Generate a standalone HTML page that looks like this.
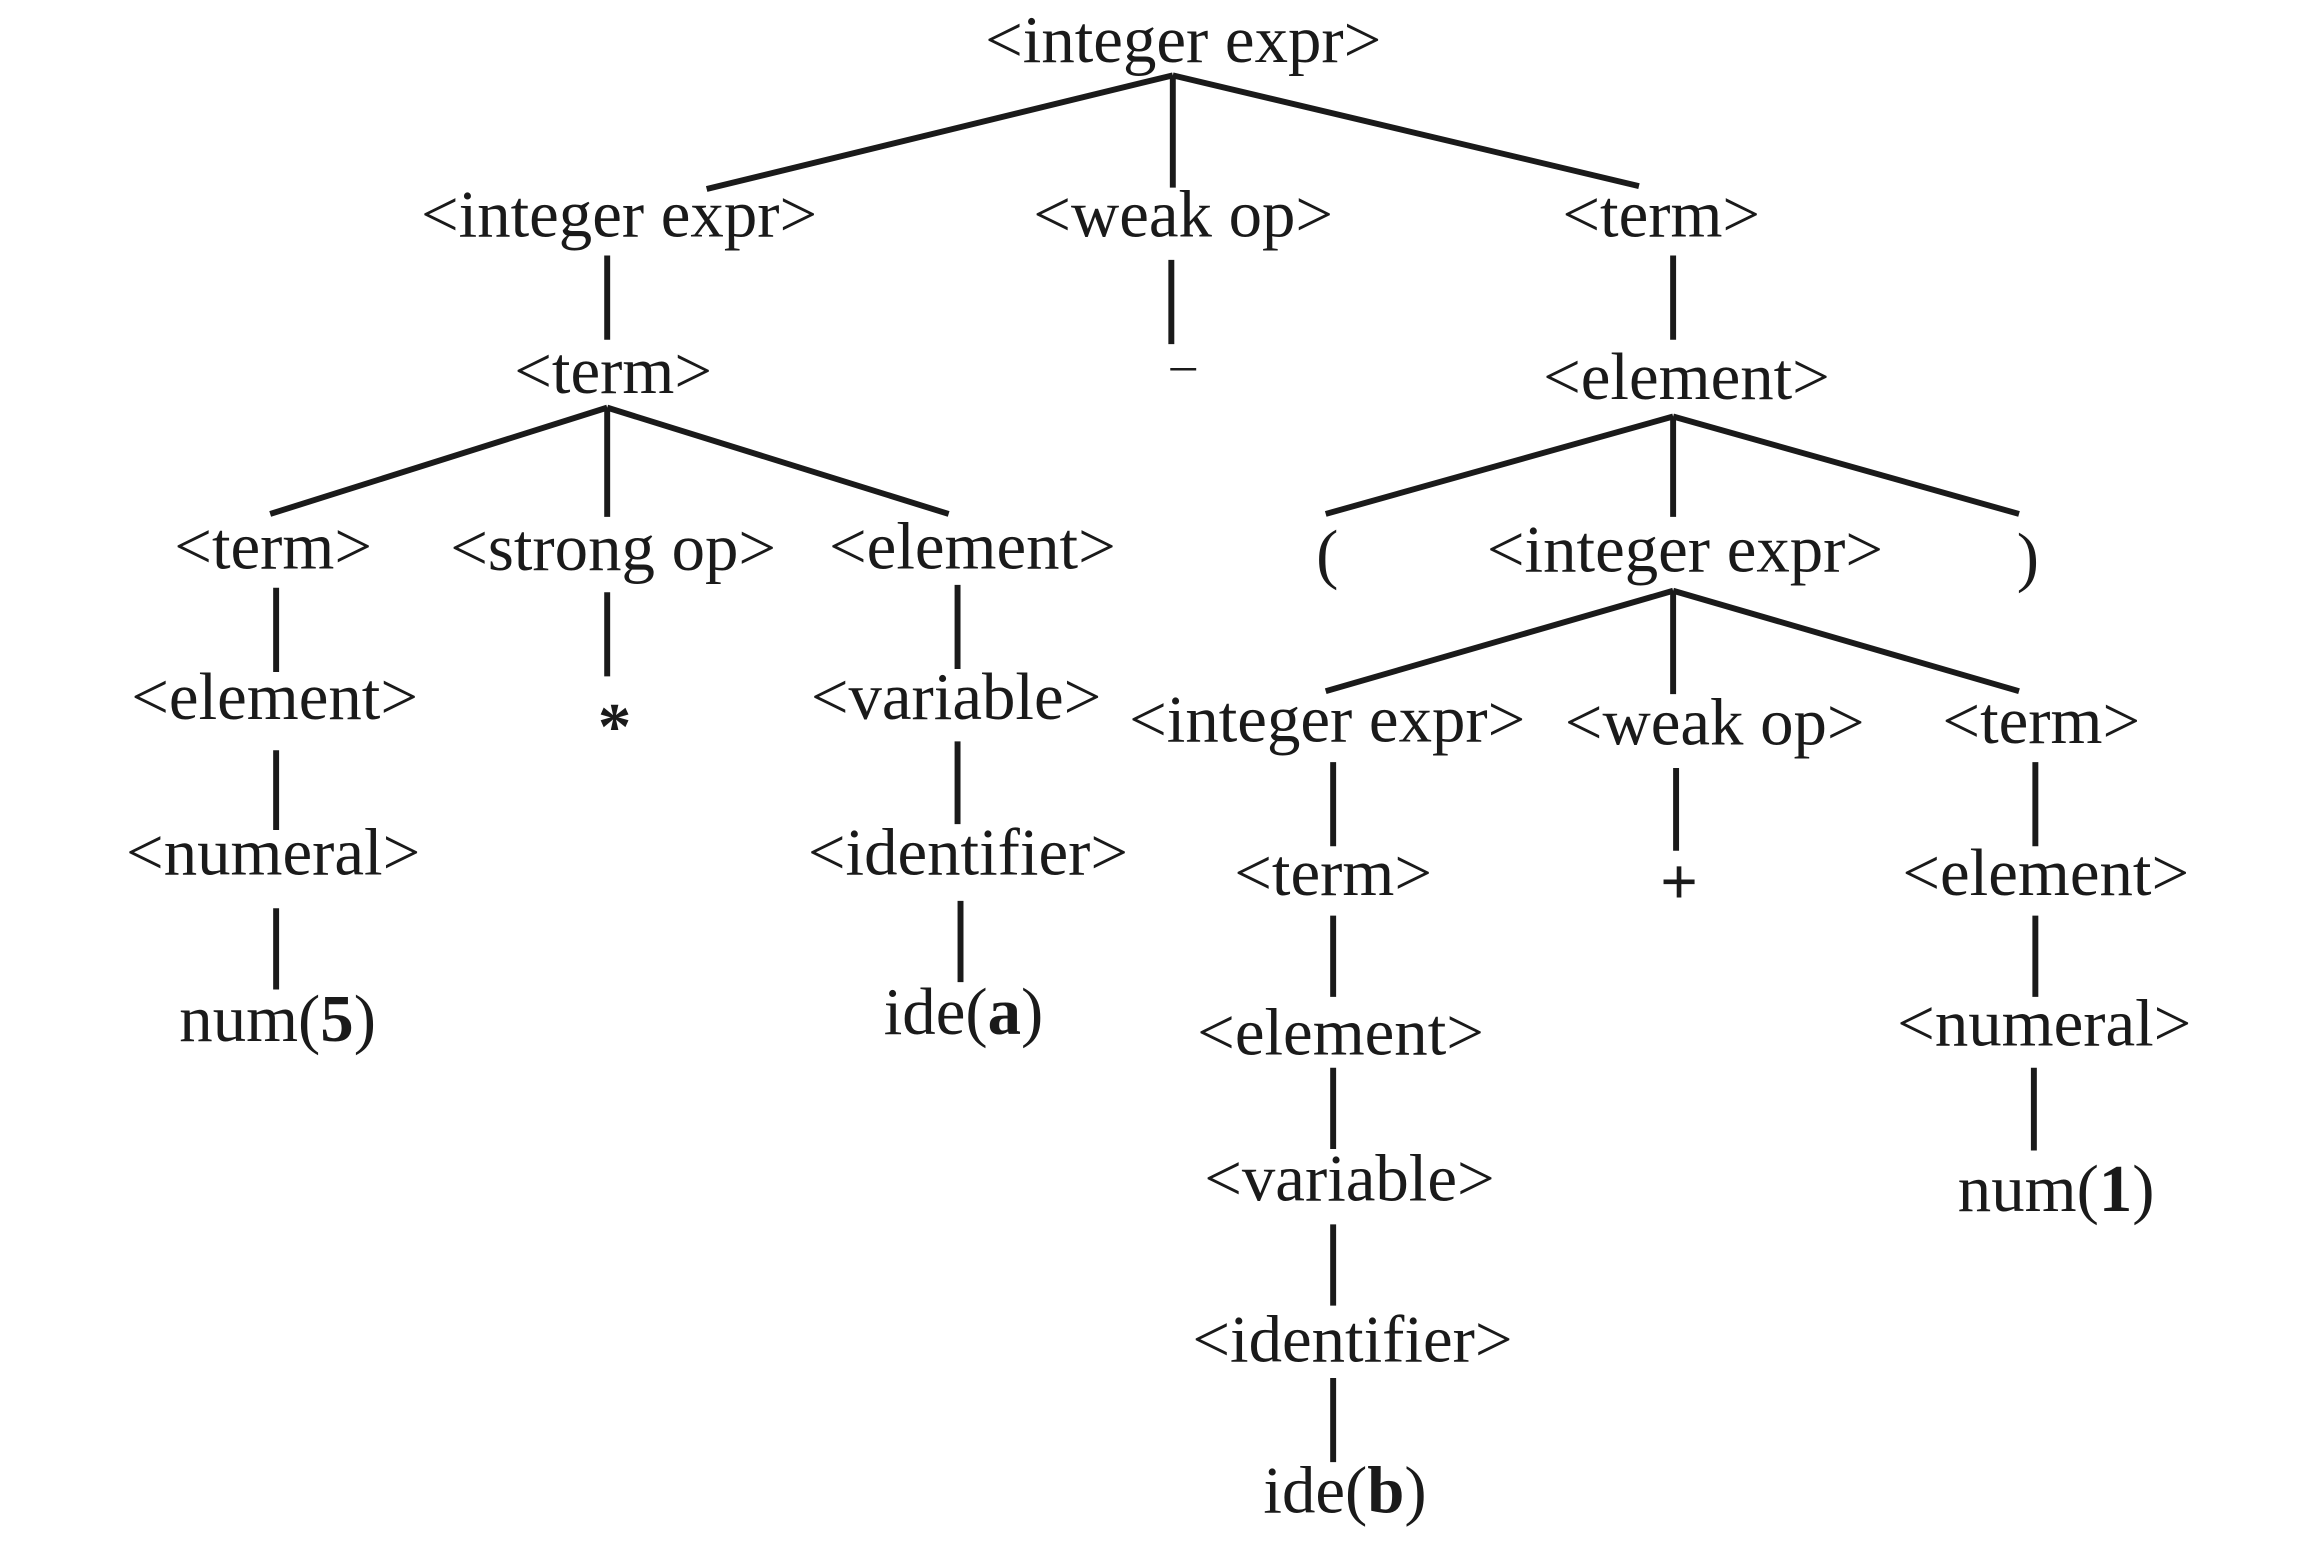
<!DOCTYPE html>
<html><head><meta charset="utf-8"><style>
html,body{margin:0;padding:0;background:#fff;}
svg{display:block;}
text{font-family:"Liberation Serif","DejaVu Serif",serif;font-size:45px;fill:#1a1a1a;text-anchor:middle;}
line{stroke:#1a1a1a;stroke-width:4;}
</style></head><body>
<svg width="2310" height="1563" viewBox="0 0 1556 1053" preserveAspectRatio="none" xmlns="http://www.w3.org/2000/svg">
<g transform="scale(1,0.995)">
<g>
<line x1="790" y1="51" x2="476" y2="128"/>
<line x1="790" y1="51" x2="790" y2="127"/>
<line x1="409" y1="173" x2="409" y2="230"/>
<line x1="789" y1="176" x2="789" y2="233"/>
<line x1="409" y1="276" x2="182" y2="348"/>
<line x1="409" y1="276" x2="409" y2="350"/>
<line x1="409" y1="276" x2="639" y2="348"/>
<line x1="186" y1="398" x2="186" y2="455"/>
<line x1="409" y1="401" x2="409" y2="458"/>
<line x1="645" y1="396" x2="645" y2="453"/>
<line x1="186" y1="508" x2="186" y2="562"/>
<line x1="645" y1="502" x2="645" y2="558"/>
<line x1="186" y1="615" x2="186" y2="670"/>
<line x1="647" y1="610" x2="647" y2="665"/>
</g>
<line x1="790" y1="51" x2="1104" y2="126"/>
<g transform="translate(-7,0)">
<line x1="1134" y1="173" x2="1134" y2="230"/>
<line x1="1134" y1="282" x2="900" y2="348"/>
<line x1="1134" y1="282" x2="1134" y2="350"/>
<line x1="1134" y1="282" x2="1367" y2="348"/>
<line x1="1134" y1="400" x2="900" y2="468"/>
<line x1="1134" y1="400" x2="1134" y2="470"/>
<line x1="1134" y1="400" x2="1367" y2="468"/>
<line x1="905" y1="516" x2="905" y2="573"/>
<line x1="1136" y1="520" x2="1136" y2="576"/>
<line x1="1378" y1="516" x2="1378" y2="573"/>
<line x1="905" y1="620" x2="905" y2="675"/>
<line x1="1378" y1="620" x2="1378" y2="675"/>
<line x1="905" y1="723" x2="905" y2="778"/>
<line x1="1377" y1="723" x2="1377" y2="779"/>
<line x1="905" y1="829" x2="905" y2="884"/>
<line x1="905" y1="933" x2="905" y2="990"/>
<text x="1126" y="160">&lt;term&gt;</text>
<text x="1143" y="270">&lt;element&gt;</text>
<text x="901" y="390">(</text>
<text x="1142" y="387">&lt;integer expr&gt;</text>
<text x="1373" y="392">)</text>
<text x="901" y="502">&lt;integer expr&gt;</text>
<text x="1162" y="504">&lt;weak op&gt;</text>
<text x="1382" y="503">&lt;term&gt;</text>
<text x="905" y="606">&lt;term&gt;</text>
<text x="1138" y="612" style="font-weight:bold">+</text>
<text x="1385" y="606">&lt;element&gt;</text>
<text x="910" y="714">&lt;element&gt;</text>
<text x="1384" y="708">&lt;numeral&gt;</text>
<text x="916" y="813">&lt;variable&gt;</text>
<text x="1392" y="820">num(<tspan style="font-weight:bold">1</tspan>)</text>
<text x="918" y="922">&lt;identifier&gt;</text>
<text x="913" y="1024">ide(<tspan style="font-weight:bold">b</tspan>)</text>
</g>
<g>
<text x="797" y="42">&lt;integer expr&gt;</text>
<text x="417" y="160">&lt;integer expr&gt;</text>
<text x="797" y="160">&lt;weak op&gt;</text>
<text x="413" y="266">&lt;term&gt;</text>
<text x="797" y="258" style="font-size:34px">–</text>
<text x="184" y="385">&lt;term&gt;</text>
<text x="413" y="386">&lt;strong op&gt;</text>
<text x="655" y="385">&lt;element&gt;</text>
<text x="185" y="487">&lt;element&gt;</text>
<text x="414" y="507" style="font-weight:bold">*</text>
<text x="644" y="487">&lt;variable&gt;</text>
<text x="184" y="592">&lt;numeral&gt;</text>
<text x="652" y="592">&lt;identifier&gt;</text>
<text x="187" y="705">num(<tspan style="font-weight:bold">5</tspan>)</text>
<text x="649" y="700">ide(<tspan style="font-weight:bold">a</tspan>)</text>
</g>
</g>
</svg>
</body></html>
